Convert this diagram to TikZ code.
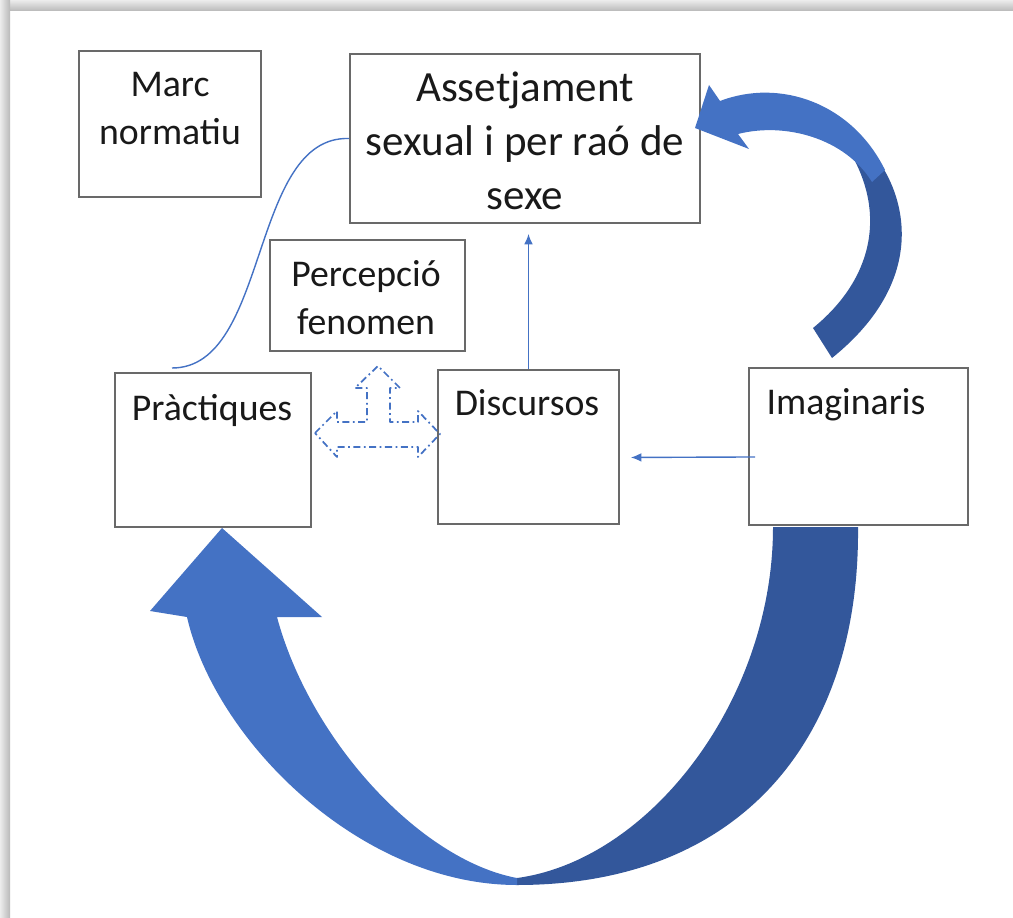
\documentclass[tikz,border=0pt]{standalone}
\usepackage{fontspec}
\setmainfont{Carlito}
\usetikzlibrary{arrows.meta,%
                fit,%
                positioning}

\definecolor{linkblue}{RGB}{68,114,196}
\definecolor{darkblue}{RGB}{51,87,155}
\definecolor{boxgray}{RGB}{105,105,105}

\tikzset{
  box/.style={draw=boxgray, line width=1pt, inner sep=0pt},
  txt/.style={anchor=base, align=center, text=black!90,
              font=\fontsize{21.5}{27.5}\selectfont},
  bigtxt/.style={txt, font=\fontsize{24.5}{31}\selectfont},
  link/.style={draw=linkblue, line width=0.8pt},
  linkarrow/.style={link, -{Latex[length=6pt,width=5pt]}},
  flow/.style={draw=linkblue, line width=1pt, line join=round,
               dash pattern=on 4pt off 2pt on 1pt off 2pt}
}

\begin{document}
\begin{tikzpicture}[x=0.02cm,y=-0.02cm]
  \useasboundingbox (0,0) rectangle (1013,918);
  \shade[top color=gray!15, bottom color=gray!55] (0,0) rectangle (1013,11);
  \shade[left color=gray!15, right color=gray!55] (0,0) rectangle (10,918);

  % boxes
  \node[box, fit={(79,51) (261,197)}] (marc) {};
  \node[box, fit={(350,54) (700,223)}] (asset) {};
  \node[box, fit={(270,240) (465,351)}] (perc) {};
  \node[box, fit={(115,373) (311,527)}] (prac) {};
  \node[box, fit={(438,370) (619,524)}] (disc) {};
  \node[box, fit={(749,368) (968,525)}] (imag) {};

  % texts (base = last line)
  \node[txt] (marcT) at (170,145) {Marc\\normatiu};
  \node[bigtxt] (assetT) at (525,210) {Assetjament\\sexual i per raó de\\sexe};
  \node[txt] (percT) at (366,335) {Percepció\\fenomen};
  \node[txt] (pracT) at (212,420) {Pràctiques};
  \node[txt] (discT) at (527,416) {Discursos};
  \node[txt] (imagT) at (846,414) {Imaginaris};

  % big curved arrows
  \fill[darkblue] (868,148) .. controls (903,185) and (935,275) .. (832,358)
    -- (813,328) .. controls (872,280) and (887,215) .. (850,152) -- cycle;
  \fill[linkblue] (695,128) -- (709,85) -- (720,101)
    .. controls (780,78) and (852,103) .. (885,170) -- (872,182)
    .. controls (845,138) and (785,122) .. (738,134) -- (749,149) -- cycle;

  \fill[darkblue] (858,527) .. controls (860,740) and (740,885) .. (517,885)
    -- (517,878) .. controls (650,860) and (773,700) .. (773,527) -- cycle;
  \fill[linkblue] (517,885) .. controls (360,885) and (215,740) .. (187,617)
    -- (150,611) -- (222,528) -- (322,617) -- (277,617)
    .. controls (310,740) and (420,860) .. (517,878) -- cycle;

  % thin connectors
  \coordinate (pracTop) at (172,368);
  \draw[link] (asset.west) .. controls +(-100,-3) and +(98,0) .. (pracTop);
  \draw[linkarrow, shorten >=0.2cm] (disc.north) -- (disc.north |- asset.south);
  \draw[linkarrow, shorten <=-0.14cm, shorten >=0.22cm]
    ([yshift=-0.21cm]imag.west) -- ([yshift=-0.21cm]disc.east);

  % dash-dot three way arrow
  \draw[flow] (315,433) -- (337,411) -- (337,422) -- (367,422) -- (367,388)
    -- (355,388) -- (378,366) -- (400,388) -- (390,388) -- (390,422)
    -- (418,422) -- (418,411) -- (440,434) -- (418,457) -- (418,447)
    -- (337,447) -- (337,457) -- cycle;

\end{tikzpicture}
\end{document}
